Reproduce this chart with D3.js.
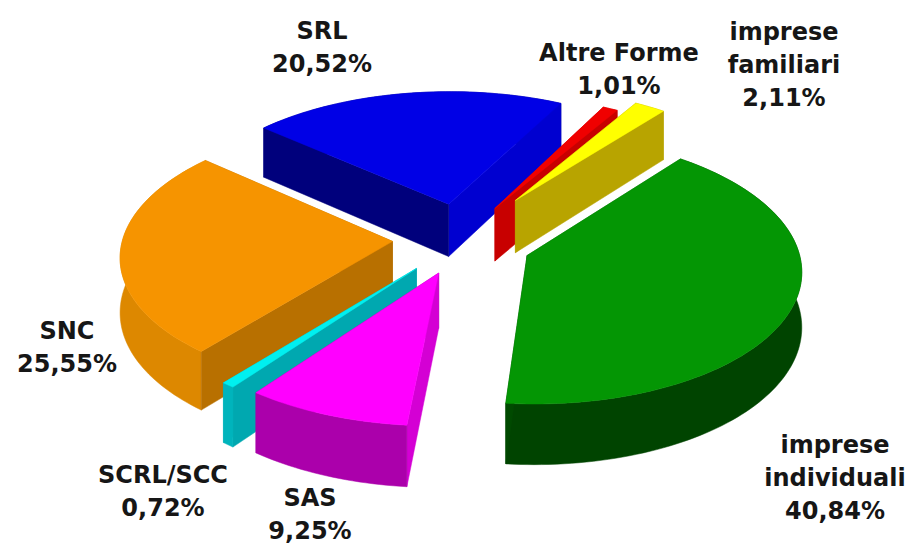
<!DOCTYPE html>
<html>
<head>
<meta charset="utf-8">
<script src="https://d3js.org/d3.v7.min.js"></script>
<style>
html, body { margin: 0; padding: 0; background: #fff; }
svg { display: block; }
text { font-family: "DejaVu Sans", sans-serif; font-weight: 700; font-size: 24px; fill: #161616; text-anchor: middle; }
</style>
</head>
<body>
<div id="chart"></div>
<script>
// values, clockwise from the big green slice
var categories = ["imprese individuali", "SAS", "SCRL/SCC", "SNC", "SRL", "Altre Forme", "imprese familiari"];
var values = [40.84, 9.25, 0.72, 25.55, 20.52, 1.01, 2.11];

// styling, same order as categories
var topColors = ["#049604", "#ff00ff", "#00f0f0", "#f69400", "#0000e6", "#f00000", "#ffff00"];
var arcColors = ["#004400", "#ab00ab", "#00b4bc", "#dd8800", "#000090", "#cc0000", "#b8a400"];
var startWalls = ["#006a00", "#d400d4", "#00a8b0", "#b87000", "#00007c", "#d80000", "#b8a400"];
var endWalls = ["#004a00", "#a000a0", "#00b0b8", "#b87000", "#0000d0", "#c80000", "#b8a400"];
var explode = [0.25, 0.25, 0.25, 0.25, 0.31, 0.31, 0.39];
var nudgeX = [2, 3, -1, -2, 0, -7, -5];
var nudgeY = [0, -1, 0, -3, 0, 0, -2];
var drawOrder = [4, 5, 6, 3, 2, 1, 0];
var labelX = [835, 310, 163, 67, 322, 619, 784];
var labelY = [453, 506, 483, 339, 39, 61, 40];

var width = 912, height = 544;
var cx = 462, cy = 243, rx = 270, ry = 131, persp = 0.1, depth = 54;
var startAngle = 38.7 * Math.PI / 180;
var warp = 3.5 * Math.PI / 180; // the far-left half of the original reads a little narrower

var svg = d3.select("#chart").append("svg")
	.attr("width", width)
	.attr("height", height);

var pie = d3.pie()
	.sort(null)
	.startAngle(startAngle)
	.endAngle(startAngle + 2 * Math.PI);
var arcs = pie(values);

var line = d3.line();

// ground plane -> screen, nearer points get a bit larger
function project(gx, gy, drop) {
	var s = 1 / (1 - persp * gy);
	return [cx + rx * gx * s, cy + ry * gy * s + drop * s];
}

function pointAt(slice, i, angle, radius, drop) {
	var mid = (slice.startAngle + slice.endAngle) / 2;
	var a = angle - warp * Math.max(0, -Math.sin(angle));
	var gx = Math.sin(mid) * explode[i] + Math.sin(a) * radius;
	var gy = -Math.cos(mid) * explode[i] - Math.cos(a) * radius;
	var p = project(gx, gy, drop);
	return [p[0] + nudgeX[i], p[1] + nudgeY[i]];
}

function meanY(pts) {
	return d3.mean(pts, function(p) { return p[1]; });
}

function drawSlice(i) {
	var slice = arcs[i];
	var steps = Math.max(2, Math.ceil((slice.endAngle - slice.startAngle) * 40));
	var angles = d3.range(steps + 1).map(function(k) {
		return slice.startAngle + (slice.endAngle - slice.startAngle) * k / steps;
	});
	var rimTop = angles.map(function(a) { return pointAt(slice, i, a, 1, 0); });
	var rimBottom = angles.map(function(a) { return pointAt(slice, i, a, 1, depth); }).reverse();
	var apexTop = pointAt(slice, i, 0, 0, 0);
	var apexBottom = pointAt(slice, i, 0, 0, depth);

	var walls = [
		{ pts: rimTop.concat(rimBottom), fill: arcColors[i] },
		{ pts: [apexTop, rimTop[0], rimBottom[rimBottom.length - 1], apexBottom], fill: startWalls[i] },
		{ pts: [apexTop, rimTop[steps], rimBottom[0], apexBottom], fill: endWalls[i] }
	];
	walls.sort(function(a, b) { return meanY(a.pts) - meanY(b.pts); });

	var g = svg.append("g").attr("class", "slice");
	g.selectAll("path.wall")
		.data(walls)
		.enter()
		.append("path")
		.attr("class", "wall")
		.attr("d", function(d) { return line(d.pts) + "Z"; })
		.attr("fill", function(d) { return d.fill; })
		.attr("stroke", function(d) { return d.fill; })
		.attr("stroke-width", 0.5);

	g.append("path")
		.attr("d", line([apexTop].concat(rimTop)) + "Z")
		.attr("fill", topColors[i])
		.attr("stroke", topColors[i])
		.attr("stroke-width", 0.5);
}

drawOrder.forEach(drawSlice);

function percent(v) {
	return v.toFixed(2).replace(".", ",") + "%";
}

function labelLines(i) {
	var name = categories[i];
	var lines = name.indexOf("imprese") === 0 ? name.split(" ") : [name];
	return lines.concat(percent(values[i]));
}

var labels = svg.selectAll("text.label")
	.data(categories)
	.enter()
	.append("text")
	.attr("class", "label")
	.attr("y", function(d, i) { return labelY[i]; });

labels.selectAll("tspan")
	.data(function(d, i) {
		return labelLines(i).map(function(t, k) { return { text: t, x: labelX[i], first: k === 0 }; });
	})
	.enter()
	.append("tspan")
	.attr("x", function(d) { return d.x; })
	.attr("dy", function(d) { return d.first ? 0 : 33; })
	.text(function(d) { return d.text; });
</script>
</body>
</html>
